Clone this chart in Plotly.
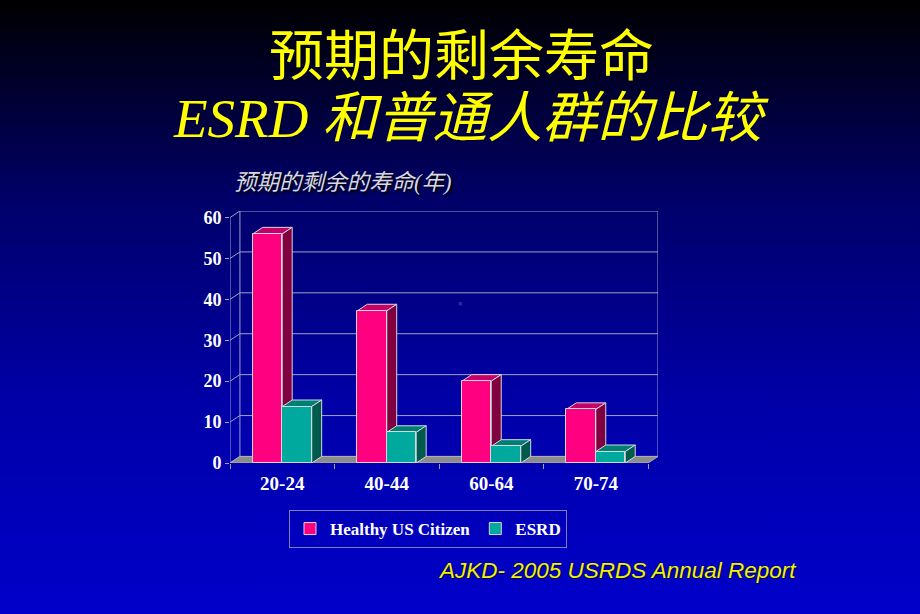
import base64
import plotly.graph_objects as go

# ---------------- data ----------------
categories = ["20-24", "40-44", "60-64", "70-74"]
healthy = [56.0, 37.2, 20.0, 13.1]
esrd = [13.8, 7.5, 4.1, 2.8]
series_names = ["Healthy US Citizen", "ESRD"]
y_ticks = [0, 10, 20, 30, 40, 50, 60]

# ---------------- style / layout constants ----------------
W, H = 920, 614
PL, PR, PT, PB = 230, 658, 211, 463          # plot-area pixel edges
DX, DY = 0.095, 1.6                           # 3-D depth offset (data units)
BW = 0.282                                    # bar width (category units)
YMAX = 60

PINK = dict(front="#FF0080", top="#C4006A", side="#800040")
TEAL = dict(front="#00A99D", top="#008074", side="#005A4E")
EDGE = "#D8D8D8"
GRID = "#A0A0C8"


def pxx(px):
    return (px - PL) / (PR - PL)


def pxy(py):
    return (PB - py) / (PB - PT)


# gradient background as svg
svg = (
    f'<svg xmlns="http://www.w3.org/2000/svg" width="{W}" height="{H}">'
    '<defs><linearGradient id="g" x1="0" y1="0" x2="0" y2="1">'
    '<stop offset="0" stop-color="#000000"/>'
    '<stop offset="0.33" stop-color="#00006A"/>'
    '<stop offset="0.66" stop-color="#0000A8"/>'
    '<stop offset="1" stop-color="#0000CA"/>'
    '</linearGradient></defs>'
    f'<rect width="{W}" height="{H}" fill="url(#g)"/></svg>'
)
bg_src = "data:image/svg+xml;base64," + base64.b64encode(svg.encode()).decode()

fig = go.Figure()

# front faces of bars
fig.add_trace(go.Bar(
    x=[i - BW / 2 for i in range(len(categories))], y=healthy, width=BW,
    name=series_names[0], marker=dict(color=PINK["front"], line=dict(color=EDGE, width=1)),
))
fig.add_trace(go.Bar(
    x=[i + BW / 2 for i in range(len(categories))], y=esrd, width=BW,
    name=series_names[1], marker=dict(color=TEAL["front"], line=dict(color=EDGE, width=1)),
))

shapes = []


def seg(x0, y0, x1, y1, color=GRID, w=1):
    shapes.append(dict(type="line", xref="x", yref="y", x0=x0, y0=y0, x1=x1, y1=y1,
                       line=dict(color=color, width=w), layer="below"))


def poly(pts, fill, line=EDGE):
    path = "M " + " L ".join(f"{a},{b}" for a, b in pts) + " Z"
    shapes.append(dict(type="path", xref="x", yref="y", path=path, fillcolor=fill,
                       line=dict(color=line, width=1), layer="below"))


xl, xr = -0.5, len(categories) - 0.5
# walls / gridlines
for v in y_ticks:
    seg(xl + DX, v + DY, xr + DX, v + DY)
    seg(xl, v, xl + DX, v + DY)
seg(xl, 0, xl, YMAX)
seg(xl + DX, DY, xl + DX, YMAX + DY)
seg(xr + DX, DY, xr + DX, YMAX + DY)
# floor
poly([(xl, 0), (xr, 0), (xr + DX, DY), (xl + DX, DY)], "#8C8C8C", line="#B0B0B0")

# top / side faces
for i in range(len(categories)):
    for vals, col, x0 in ((healthy, PINK, i - BW), (esrd, TEAL, i)):
        v = vals[i]
        x1 = x0 + BW
        poly([(x0, v), (x1, v), (x1 + DX, v + DY), (x0 + DX, v + DY)], col["top"])
        poly([(x1, 0), (x1, v), (x1 + DX, v + DY), (x1 + DX, DY)], col["side"])

bg_image = dict(source=bg_src, xref="paper", yref="paper", x=pxx(0), y=pxy(0),
                sizex=W / (PR - PL), sizey=H / (PB - PT), xanchor="left", yanchor="top",
                sizing="stretch", layer="below")

annotations = [
    dict(text="预期的剩余寿命", x=pxx(461), y=pxy(51), xref="paper", yref="paper",
         showarrow=False, xanchor="center", yanchor="middle",
         font=dict(family="Noto Sans CJK SC", size=55, color="#FFFF00")),
    dict(text="<i>ESRD 和普通人群的比较</i>", x=pxx(471), y=pxy(119), xref="paper", yref="paper",
         showarrow=False, xanchor="center", yanchor="middle",
         font=dict(family="Liberation Serif, Noto Sans CJK SC", size=55, color="#FFFF00")),
    dict(text="<i>预期的剩余的寿命(年)</i>", x=pxx(232), y=pxy(182), xref="paper", yref="paper",
         showarrow=False, xanchor="left", yanchor="middle",
         font=dict(family="Liberation Serif, Noto Sans CJK SC", size=22.5, color="#D8D8E0",
                   shadow="2px 2px 2px #000000")),
    dict(text="<i>AJKD- 2005 USRDS Annual Report</i>", x=pxx(436), y=pxy(570), xref="paper",
         yref="paper", showarrow=False, xanchor="left", yanchor="middle",
         font=dict(family="Liberation Sans", size=22.5, color="#F2F200",
                   shadow="1px 1px 1px #000050")),
    dict(text="■", x=pxx(460), y=pxy(303), xref="paper", yref="paper", showarrow=False,
         xanchor="center", yanchor="middle", font=dict(size=7, color="#2828A0")),
]

fig.update_layout(
    width=W, height=H,
    margin=dict(l=PL, r=W - PR, t=PT, b=H - PB, pad=0),
    paper_bgcolor="#000060", plot_bgcolor="rgba(0,0,0,0)",
    barmode="overlay", bargap=0,
    shapes=shapes, images=[bg_image], annotations=annotations,
    xaxis=dict(range=[xl, xr + DX], tickvals=list(range(len(categories))), ticktext=categories,
               ticks="", showgrid=False, zeroline=False, showline=False, fixedrange=True,
               ticklabelstandoff=7,
               tickfont=dict(family="Liberation Serif", size=19, color="white", weight="bold"),
               minor=dict(tickvals=[k - 0.5 for k in range(len(categories) + 1)], ticks="outside",
                          ticklen=5, tickcolor="#A0A0A0", showgrid=False)),
    yaxis=dict(range=[0, YMAX + DY], tickvals=y_ticks, ticks="outside", ticklen=4,
               tickcolor=GRID, showgrid=False, zeroline=False, showline=False, fixedrange=True,
               tickfont=dict(family="Liberation Serif", size=18, color="white", weight="bold")),
    legend=dict(orientation="h", x=pxx(428), xanchor="center", y=pxy(510), yanchor="top",
                bgcolor="rgba(0,0,0,0)", bordercolor="#8080B0", borderwidth=1,
                font=dict(family="Liberation Serif", size=17, color="white", weight="bold"),
                itemwidth=30, tracegroupgap=0),
    showlegend=True,
)

fig.write_html("out.html")
